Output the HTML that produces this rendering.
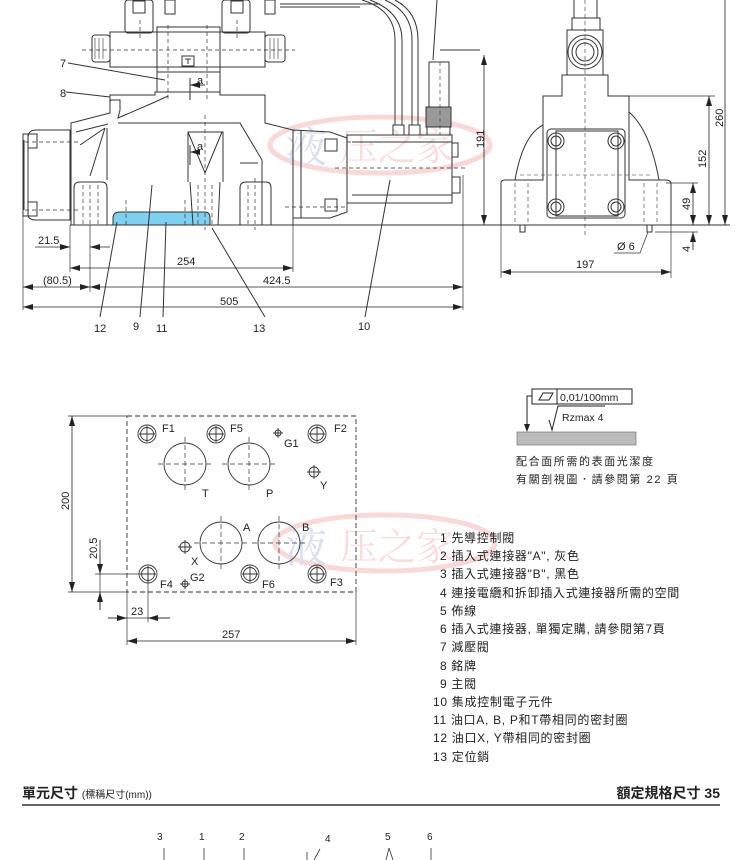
<!DOCTYPE html>
<html><head><meta charset="utf-8"><style>
html,body{margin:0;padding:0;background:#fff;}
svg{display:block;}
text{font-family:"Liberation Sans","Noto Sans CJK TC",sans-serif;fill:#222;}
</style></head><body>
<svg width="750" height="860" viewBox="0 0 750 860" xmlns="http://www.w3.org/2000/svg">
<defs>
<marker id="a" viewBox="0 0 10 6" refX="10" refY="3" markerWidth="10" markerHeight="6" orient="auto-start-reverse" markerUnits="userSpaceOnUse"><path d="M0,0L10,3L0,6z" fill="#222"/></marker>
</defs>
<!-- watermarks -->
<g opacity="0.25">
<ellipse cx="380" cy="145" rx="110" ry="28" fill="none" stroke="#e66" stroke-width="5"/>
<text x="285" y="162" font-size="42" style="fill:#6a7fc8;font-family:'Noto Serif CJK SC',serif">液</text>
<text x="340" y="160" font-size="38" style="fill:#e77;font-family:'Noto Serif CJK SC',serif">压之家</text>
<ellipse cx="385" cy="543" rx="110" ry="28" fill="none" stroke="#e66" stroke-width="5"/>
<text x="285" y="562" font-size="42" style="fill:#6a7fc8;font-family:'Noto Serif CJK SC',serif">液</text>
<text x="340" y="560" font-size="38" style="fill:#e77;font-family:'Noto Serif CJK SC',serif">压之家</text>
</g>
<g fill="none" stroke="#333" stroke-width="1">
<path d="M113,225 L113,218 Q113,212 120,212 L205,212 Q210,212 210,218 L210,225z" fill="#7fd0ef" stroke="#333"/>
<line x1="70" y1="225" x2="480" y2="225"/>
<path d="M71,225 L71,123 L110,113 L110,95 L155,95 L155,92 L220,92 L220,95 L265,95 L265,123 L293,130 L293,225"/>
<path d="M110,113 L110,102 Q110,100 112,100 L120,100 L120,110 L118,118 L155,102 L168,96"/>
<path d="M118,123 L240,123 L262,160 L262,225"/>
<path d="M76,132 L108,124 M80,145 L105,128 M90,176 L105,128 M107,128 L107,180"/>
<path d="M74,225 L74,188 Q74,182 80,182 L102,182 Q107,182 107,188 L107,225"/>
<path d="M240,225 L240,188 Q240,182 246,182 L266,182 Q271,182 271,188 L271,225"/>
<path d="M188,182 L188,132 L223,132 L223,182 M188,132 L205,173 L222,132 M190,182 L193,225 M220,182 L218,225"/>
<path d="M240,163 L258,163"/>
<g stroke-dasharray="4,3" stroke-width="0.7">
<line x1="83" y1="185" x2="83" y2="225"/><line x1="90" y1="185" x2="90" y2="225"/><line x1="98" y1="185" x2="98" y2="225"/>
<line x1="248" y1="185" x2="248" y2="225"/><line x1="255" y1="178" x2="255" y2="230"/><line x1="262" y1="185" x2="262" y2="225"/>
<line x1="198" y1="185" x2="198" y2="225"/><line x1="205" y1="115" x2="205" y2="230"/><line x1="212" y1="185" x2="212" y2="225"/>
<line x1="126" y1="200" x2="126" y2="225"/><line x1="185" y1="200" x2="185" y2="225"/>
<line x1="168" y1="25" x2="168" y2="100"/><line x1="207" y1="25" x2="207" y2="100"/>
<line x1="140" y1="20" x2="140" y2="40"/><line x1="237" y1="20" x2="237" y2="40"/>
<line x1="82" y1="50" x2="295" y2="50"/>
<line x1="25" y1="142" x2="80" y2="142"/><line x1="25" y1="210" x2="80" y2="210"/>
<line x1="285" y1="207" x2="345" y2="207"/><line x1="335" y1="168" x2="465" y2="168"/>
<line x1="347" y1="142" x2="365" y2="142"/>
</g>
<rect x="110" y="32" width="155" height="35"/>
<rect x="157" y="27" width="63" height="65"/>
<line x1="157" y1="72" x2="220" y2="72"/>
<rect x="182" y="56" width="12" height="10"/>
<path d="M185,59h6M188,59v5"/>
<rect x="92" y="35" width="18" height="27" rx="3"/><rect x="265" y="35" width="20" height="27" rx="3"/>
<path d="M95,38v21M99,38v21M103,38v21M270,38v21M274,38v21M278,38v21" stroke-width="0.6"/>
<rect x="125" y="0" width="28" height="33" rx="3"/><rect x="222" y="0" width="28" height="33" rx="3"/>
<rect x="133" y="1" width="12" height="12"/><rect x="231" y="1" width="12" height="12"/>
<rect x="165" y="0" width="10" height="14"/><rect x="265" y="0" width="10" height="14"/>
<line x1="280" y1="4" x2="380" y2="4"/><line x1="280" y1="7" x2="360" y2="7"/>
<line x1="190" y1="78" x2="190" y2="100"/><line x1="190" y1="85" x2="205" y2="85" marker-start="url(#a)"/>
<line x1="190" y1="145" x2="190" y2="165"/><line x1="190" y1="152" x2="200" y2="152" marker-start="url(#a)"/>
<path d="M70,130 L36,130 Q28,130 28,138 L28,214 Q28,220 36,220 L70,220z"/>
<path d="M24,140 L24,210 M28,134 L23,134 L23,216 L28,216"/>
<rect x="28" y="134" width="9" height="14"/><rect x="28" y="202" width="9" height="14"/>
<path d="M293,130 L330,132 L347,138 L347,212 L330,218 L293,218z"/>
<line x1="301" y1="131" x2="301" y2="218"/>
<rect x="325" y="139" width="12" height="12"/><rect x="325" y="199" width="12" height="12"/>
<rect x="347" y="135" width="105" height="68"/>
<line x1="352" y1="142" x2="452" y2="142"/><line x1="352" y1="195" x2="452" y2="195"/>
<rect x="452" y="143" width="6" height="14"/><rect x="452" y="177" width="8" height="16"/>
<path d="M362,0 Q395,10 395,40 L395,125 M370,0 Q402,12 402,40 L402,125 M385,0 Q412,12 412,40 L412,125 M395,0 Q418,12 418,40 L418,125"/>
<rect x="393" y="125" width="11" height="10"/><rect x="409" y="125" width="11" height="10"/>
<path d="M437,0 L433,60"/>
<rect x="429" y="62" width="20" height="45"/><rect x="426" y="107" width="25" height="20" fill="#999"/>
<rect x="427" y="127" width="23" height="8"/>
<line x1="440" y1="50" x2="480" y2="50"/>
<line x1="440" y1="62" x2="440" y2="135" stroke-dasharray="4,3" stroke-width="0.6"/>
<path d="M68,63 L165,80 M66,92 L110,97 M100,317 L117,222 M140,317 L152,185 M163,317 L166,222 M265,317 L212,228 M365,317 L390,180"/>
<line x1="463" y1="175" x2="463" y2="310" stroke-width="0.7"/>
<line x1="23" y1="215" x2="23" y2="310" stroke-width="0.7"/>
<line x1="70" y1="225" x2="70" y2="272" stroke-width="0.7"/>
<line x1="293" y1="225" x2="293" y2="272" stroke-width="0.7"/>
<line x1="90" y1="225" x2="90" y2="292" stroke-width="0.7"/>
</g>
<g stroke="#222" stroke-width="0.8" fill="none">
<line x1="35" y1="247" x2="70" y2="247" marker-end="url(#a)"/><line x1="110" y1="247" x2="90" y2="247" marker-end="url(#a)"/>
<line x1="70" y1="268" x2="293" y2="268" marker-start="url(#a)" marker-end="url(#a)"/>
<line x1="23" y1="287" x2="90" y2="287" marker-start="url(#a)" marker-end="url(#a)"/>
<line x1="90" y1="287" x2="463" y2="287" marker-start="url(#a)" marker-end="url(#a)"/>
<line x1="23" y1="307" x2="463" y2="307" marker-start="url(#a)" marker-end="url(#a)"/>
</g>
<g font-size="11">
<text x="38" y="244">21.5</text><text x="177" y="265">254</text><text x="43" y="284">(80.5)</text>
<text x="263" y="284">424.5</text><text x="220" y="305">505</text>
<text x="60" y="67">7</text><text x="60" y="97">8</text><text x="197" y="84">a</text><text x="197" y="150">a</text>
<text x="94" y="332">12</text><text x="133" y="330">9</text><text x="156" y="332">11</text><text x="253" y="332">13</text><text x="358" y="330">10</text>
</g>
<g fill="none" stroke="#333" stroke-width="1">
<path d="M501,225 L501,183 Q501,180 505,180 L543,180 L543,96 L562,96 L562,75 L608,75 L608,96 L629,96 L629,180 L666,180 Q671,180 671,184 L671,225z"/>
<line x1="480" y1="225" x2="730" y2="225"/>
<path d="M543,125 Q523,135 515,180 M629,112 Q650,130 659,180"/>
<rect x="547" y="129" width="78" height="89" rx="4"/>
<rect x="556" y="131" width="62" height="85"/>
<circle cx="556" cy="141" r="8"/><circle cx="616" cy="141" r="8"/><circle cx="556" cy="207" r="8"/><circle cx="616" cy="207" r="8"/>
<circle cx="556" cy="141" r="5"/><circle cx="616" cy="141" r="5"/><circle cx="556" cy="207" r="5"/><circle cx="616" cy="207" r="5"/>
<rect x="567" y="30" width="36" height="45"/>
<circle cx="585" cy="52" r="17"/><circle cx="585" cy="52" r="13"/><circle cx="585" cy="52" r="9"/>
<rect x="572" y="18" width="28" height="12"/>
<path d="M574,0v18M597,0v18"/>
<rect x="520" y="225" width="5" height="7"/><rect x="647" y="225" width="5" height="7"/>
<g stroke-dasharray="4,3" stroke-width="0.6">
<line x1="585" y1="0" x2="585" y2="235"/><line x1="520" y1="175" x2="650" y2="175"/>
<line x1="515" y1="183" x2="515" y2="225"/><line x1="528" y1="183" x2="528" y2="225"/>
<line x1="644" y1="183" x2="644" y2="225"/><line x1="657" y1="183" x2="657" y2="225"/>
</g>
<line x1="501" y1="225" x2="501" y2="278" stroke-width="0.7"/><line x1="671" y1="225" x2="671" y2="278" stroke-width="0.7"/>
<line x1="629" y1="96" x2="715" y2="96" stroke-width="0.7"/><line x1="666" y1="183" x2="698" y2="183" stroke-width="0.7"/>
<line x1="655" y1="232" x2="698" y2="232" stroke-width="0.7"/>
<path d="M614,253 L640,253 L648,232" stroke-width="0.7"/>
</g>
<g stroke="#222" stroke-width="0.8">
<line x1="484" y1="55" x2="484" y2="225" marker-start="url(#a)" marker-end="url(#a)"/>
<line x1="725" y1="0" x2="725" y2="225" marker-end="url(#a)"/>
<line x1="709" y1="96" x2="709" y2="225" marker-start="url(#a)" marker-end="url(#a)"/>
<line x1="693" y1="183" x2="693" y2="225" marker-start="url(#a)" marker-end="url(#a)"/>
<line x1="693" y1="250" x2="693" y2="232" marker-end="url(#a)"/>
<line x1="501" y1="272" x2="671" y2="272" marker-start="url(#a)" marker-end="url(#a)"/>
</g>
<g font-size="11">
<text transform="translate(484,148) rotate(-90)">191</text>
<text transform="translate(723,127) rotate(-90)">260</text>
<text transform="translate(706,168) rotate(-90)">152</text>
<text transform="translate(690,210) rotate(-90)">49</text>
<text transform="translate(690,252) rotate(-90)">4</text>
<text x="617" y="250">Ø 6</text><text x="576" y="268">197</text>
</g>
<g fill="none" stroke="#333" stroke-width="0.9">
<rect x="127" y="416" width="229" height="176" stroke-dasharray="5,3"/>
<circle cx="185" cy="464" r="21"/><circle cx="249" cy="464" r="21"/>
<circle cx="221" cy="543" r="21"/><circle cx="279" cy="543" r="21"/>
<g stroke-dasharray="5,3" stroke-width="0.7">
<path d="M158,464h54M185,437v54M222,464h54M249,437v54M194,543h54M221,516v54M252,543h54M279,516v54"/>
</g>
<g>
<circle cx="147" cy="434" r="9"/><circle cx="147" cy="434" r="6.5"/><path d="M139,434h16M147,426v16"/>
<circle cx="216" cy="434" r="9"/><circle cx="216" cy="434" r="6.5"/><path d="M208,434h16M216,426v16"/>
<circle cx="317" cy="434" r="9"/><circle cx="317" cy="434" r="6.5"/><path d="M309,434h16M317,426v16"/>
<circle cx="148" cy="574" r="9"/><circle cx="148" cy="574" r="6.5"/><path d="M140,574h16M148,566v16"/>
<circle cx="250" cy="574" r="9"/><circle cx="250" cy="574" r="6.5"/><path d="M242,574h16M250,566v16"/>
<circle cx="317" cy="574" r="9"/><circle cx="317" cy="574" r="6.5"/><path d="M309,574h16M317,566v16"/>
<circle cx="278" cy="433" r="3"/><path d="M273,433h10M278,428v10"/>
<circle cx="185" cy="584" r="3"/><path d="M180,584h10M185,579v10"/>
<circle cx="314" cy="472" r="5"/><path d="M307,472h14M314,465v14"/>
<circle cx="185" cy="547" r="5"/><path d="M178,547h14M185,540v14"/>
</g>
<g stroke-width="0.7">
<path d="M68,416H127M68,592H127M95,574H148M127,592V645M356,592V645M148,574V622M100,555V610M108,618H170"/>
</g>
</g>
<g stroke="#222" stroke-width="0.8">
<line x1="72" y1="416" x2="72" y2="592" marker-start="url(#a)" marker-end="url(#a)"/>
<line x1="100" y1="540" x2="100" y2="574" marker-end="url(#a)"/>
<line x1="100" y1="610" x2="100" y2="592" marker-end="url(#a)"/>
<line x1="108" y1="618" x2="127" y2="618" marker-end="url(#a)"/>
<line x1="170" y1="618" x2="148" y2="618" marker-end="url(#a)"/>
<line x1="127" y1="641" x2="356" y2="641" marker-start="url(#a)" marker-end="url(#a)"/>
</g>
<g font-size="11">
<text x="162" y="432">F1</text><text x="230" y="432">F5</text><text x="284" y="447">G1</text><text x="334" y="432">F2</text>
<text x="202" y="497">T</text><text x="266" y="497">P</text><text x="320" y="489">Y</text>
<text x="243" y="531">A</text><text x="302" y="531">B</text><text x="191" y="565">X</text>
<text x="160" y="588">F4</text><text x="190" y="581">G2</text><text x="262" y="588">F6</text><text x="330" y="586">F3</text>
<text transform="translate(69,510) rotate(-90)">200</text>
<text transform="translate(97,559) rotate(-90)">20.5</text>
<text x="131" y="615">23</text><text x="222" y="638">257</text>
</g>
<g fill="none" stroke="#222" stroke-width="1">
<rect x="532" y="389" width="100" height="15"/><line x1="557" y1="389" x2="557" y2="404"/>
<path d="M539,400 L543,393 L553,393 L549,400z"/>
<path d="M532,396 L527,396 L527,430" /><path d="M549,420 L552,430 L558,406 L605,406"/>
</g>
<path d="M524,424 L530,424 L527,432z" fill="#222"/>
<rect x="517" y="432" width="119" height="13" fill="#bbb" stroke="#777" stroke-width="0.7"/>
<g font-size="10.5"><text x="560" y="401">0,01/100mm</text><text x="562" y="421">Rzmax 4</text></g>
<g font-size="11" letter-spacing="1.6">
<text x="516" y="465">配合面所需的表面光潔度</text>
<text x="516" y="483">有關剖視圖．請參閱第 22 頁</text>
</g>
<g font-size="12" letter-spacing="0.7">
<text x="440" y="542">1 先導控制閥</text>
<text x="440" y="560">2 插入式連接器"A", 灰色</text>
<text x="440" y="578">3 插入式連接器"B", 黑色</text>
<text x="440" y="597">4 連接電纜和拆卸插入式連接器所需的空間</text>
<text x="440" y="615">5 佈線</text>
<text x="440" y="633">6 插入式連接器, 單獨定購, 請參閱第7頁</text>
<text x="440" y="651">7 減壓閥</text>
<text x="440" y="670">8 銘牌</text>
<text x="440" y="688">9 主閥</text>
<text x="433" y="706">10 集成控制電子元件</text>
<text x="433" y="724">11 油口A, B, P和T帶相同的密封圈</text>
<text x="433" y="742">12 油口X, Y帶相同的密封圈</text>
<text x="433" y="761">13 定位銷</text>
</g>
<text x="22" y="798" font-size="14" font-weight="bold">單元尺寸 <tspan font-size="10" font-weight="normal">(標稱尺寸(mm))</tspan></text>
<text x="720" y="798" font-size="14" font-weight="bold" text-anchor="end">額定規格尺寸 35</text>
<line x1="22" y1="805" x2="720" y2="805" stroke="#333" stroke-width="1.5"/>
<g font-size="10"><text x="157" y="840">3</text><text x="199" y="840">1</text><text x="239" y="840">2</text><text x="325" y="842">4</text><text x="385" y="840">5</text><text x="427" y="840">6</text></g>
<g stroke="#333" stroke-width="0.8">
<path d="M164,848V860M204,848V860M244,848V860M320,849L314,860M307,852V860M389,848L386,860M389,848L393,860M431,848V860"/>
</g>
</svg>
</body></html>
